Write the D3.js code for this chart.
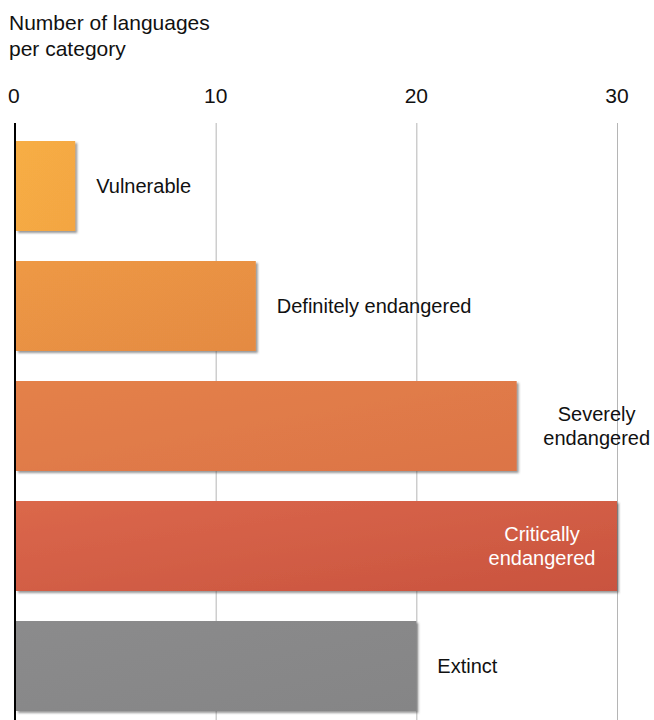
<!DOCTYPE html>
<html lang="en">
<head>
  <meta charset="UTF-8">
  <title>Languages per category</title>
  <script src="https://d3js.org/d3.v7.min.js"></script>
  <style>
    body { margin: 0; background: #fff; }
    text { font-family: "Liberation Sans", Arial, Helvetica, sans-serif; }
  </style>
</head>
<body>
  <svg width="654" height="720"></svg>
  <script>
    const categories = ["Vulnerable", "Definitely endangered", "Severely endangered", "Critically endangered", "Extinct"];
    const counts = [3, 12, 25, 30, 20];
    const tickValues = [0, 10, 20, 30];
    const colorsFrom = ["#f7ae44", "#ee9944", "#e4814a", "#db684b", "#8b8b8c"];
    const colorsTo = ["#f3a543", "#e48a43", "#dc7446", "#c9533f", "#858586"];

    const svg = d3.select("svg");
    const x = d3.scaleLinear().domain([0, 30]).range([15, 617]);
    const y = d3.scaleBand().domain(categories).range([141, 711]).paddingInner(0.25).paddingOuter(0);

    const defs = svg.append("defs");
    defs.append("filter")
        .attr("id", "shadow")
        .attr("x", "-5%").attr("y", "-5%").attr("width", "115%").attr("height", "115%")
      .append("feDropShadow")
        .attr("dx", 2).attr("dy", 2)
        .attr("stdDeviation", 1.3)
        .attr("flood-color", "#444")
        .attr("flood-opacity", 0.55);

    categories.forEach((c, i) => {
      const g = defs.append("linearGradient")
          .attr("id", "grad" + i)
          .attr("x1", "0%").attr("y1", "0%").attr("x2", "100%").attr("y2", "100%");
      g.append("stop").attr("offset", "0%").attr("stop-color", colorsFrom[i]);
      g.append("stop").attr("offset", "100%").attr("stop-color", colorsTo[i]);
    });

    // title
    svg.append("text")
        .attr("x", 9).attr("y", 30)
        .attr("font-size", 21)
        .attr("fill", "#111")
      .selectAll("tspan")
      .data(["Number of languages", "per category"])
      .join("tspan")
        .attr("x", 9)
        .attr("dy", (d, i) => i ? 26 : 0)
        .text(d => d);

    // grid
    svg.append("g")
      .selectAll("line")
      .data(tickValues.slice(1))
      .join("line")
        .attr("x1", d => x(d) + 0.5).attr("x2", d => x(d) + 0.5)
        .attr("y1", 123).attr("y2", 720)
        .attr("stroke", "#b5b5b5")
        .attr("stroke-width", 1);

    // tick labels
    svg.append("g")
      .selectAll("text")
      .data(tickValues)
      .join("text")
        .attr("x", d => d === 0 ? x(d) - 7 : x(d))
        .attr("y", 103)
        .attr("text-anchor", d => d === 0 ? "start" : "middle")
        .attr("font-size", 21)
        .attr("fill", "#111")
        .text(d => d);

    // bars
    svg.append("g")
      .selectAll("rect")
      .data(categories)
      .join("rect")
        .attr("x", x(0) + 1)
        .attr("y", d => y(d))
        .attr("width", (d, i) => x(counts[i]) - x(0) - 1)
        .attr("height", y.bandwidth())
        .attr("fill", (d, i) => `url(#grad${i})`)
        .attr("filter", "url(#shadow)");

    // baseline
    svg.append("line")
        .attr("x1", x(0)).attr("x2", x(0))
        .attr("y1", 123).attr("y2", 720)
        .attr("stroke", "#000")
        .attr("stroke-width", 2);

    // labels
    const maxCount = d3.max(counts);
    svg.append("g")
      .selectAll("text")
      .data(categories)
      .join("text")
        .attr("font-size", 20)
        .each(function(d, i) {
          const words = d.split(" ");
          const lines = words.length > 1 && counts[i] > 20 ? [words[0], words.slice(1).join(" ")] : [d];
          const cy = y(d) + y.bandwidth() / 2;
          const inside = counts[i] === maxCount;
          const t = d3.select(this)
              .attr("fill", inside ? "#fff" : "#111")
              .attr("text-anchor", lines.length > 1 ? "middle" : "start");
          const lx = inside ? x(counts[i]) - 75 : lines.length > 1 ? x(counts[i]) + 80 : x(counts[i]) + 21;
          t.selectAll("tspan")
            .data(lines)
            .join("tspan")
              .attr("x", lx)
              .attr("y", (l, j) => cy + 7 + (j - (lines.length - 1) / 2) * 24)
              .text(l => l);
        });
  </script>
</body>
</html>
